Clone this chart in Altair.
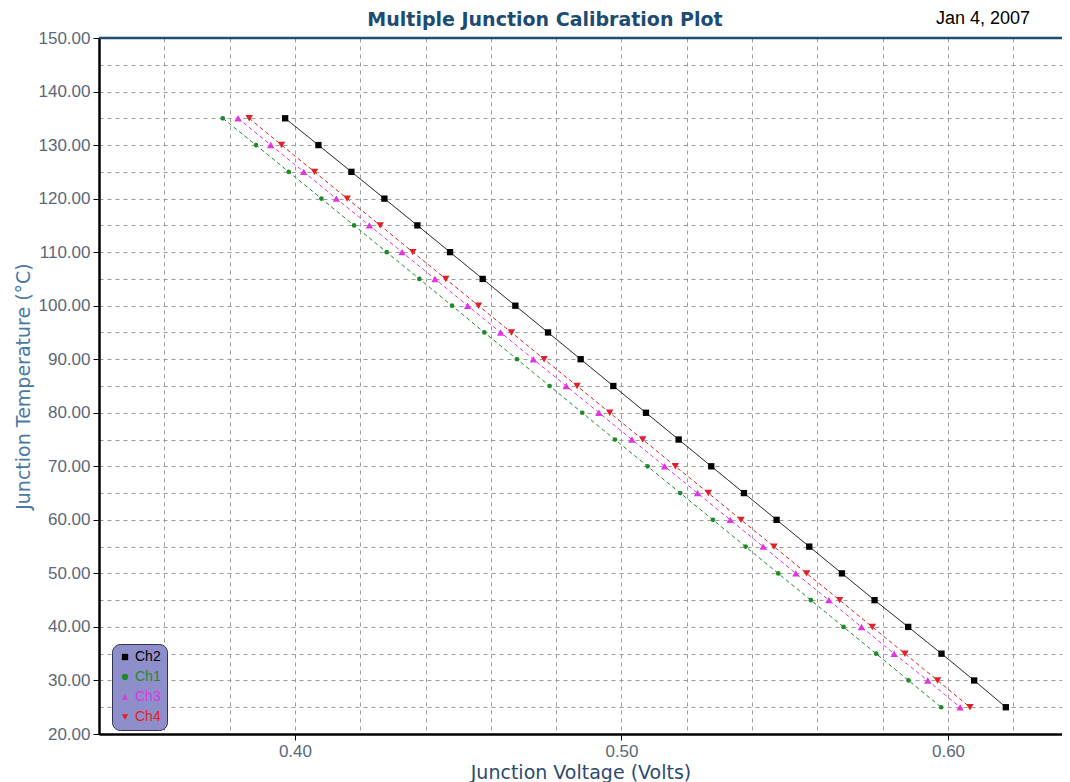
import altair as alt
import pandas as pd

# ---- data ----
temps = [135, 130, 125, 120, 115, 110, 105, 100, 95, 90, 85, 80,
         75, 70, 65, 60, 55, 50, 45, 40, 35, 30, 25]
ch2 = [0.3970, 0.4072, 0.4173, 0.4274, 0.4375, 0.4475, 0.4575, 0.4675,
       0.4775, 0.4875, 0.4975, 0.5075, 0.5175, 0.5275, 0.5375, 0.5475,
       0.5575, 0.5675, 0.5775, 0.5878, 0.5980, 0.6080, 0.6177]
ch1 = [0.3779, 0.3881, 0.3981, 0.4081, 0.4181, 0.4281, 0.4381, 0.4481,
       0.4580, 0.4680, 0.4780, 0.4880, 0.4980, 0.5080, 0.5180, 0.5280,
       0.5380, 0.5480, 0.5580, 0.5680, 0.5780, 0.5879, 0.5979]
ch3 = [0.3826, 0.3926, 0.4027, 0.4127, 0.4228, 0.4328, 0.4429, 0.4529,
       0.4630, 0.4730, 0.4831, 0.4931, 0.5032, 0.5132, 0.5233, 0.5333,
       0.5434, 0.5534, 0.5635, 0.5735, 0.5835, 0.5938, 0.6037]
ch4 = [0.3860, 0.3959, 0.4060, 0.4160, 0.4261, 0.4361, 0.4462, 0.4562,
       0.4663, 0.4763, 0.4864, 0.4964, 0.5065, 0.5165, 0.5266, 0.5366,
       0.5467, 0.5567, 0.5668, 0.5768, 0.5868, 0.5968, 0.6067]

series_names = ["Ch2", "Ch1", "Ch3", "Ch4"]
series_colors = ["#000000", "#1f8a2a", "#e035e0", "#e0202a"]
series_shapes = ["square", "circle", "triangle-up", "triangle-down"]
series_sizes = [40, 22, 55, 55]
series_dash = [[1, 0], [4, 3], [4, 3], [4, 3]]

x_grid_values = [0.34, 0.36, 0.38, 0.40, 0.42, 0.44, 0.46, 0.48, 0.50,
                 0.52, 0.54, 0.56, 0.58, 0.60, 0.62]
y_grid_values = [20, 25, 30, 35, 40, 45, 50, 55, 60, 65, 70, 75, 80, 85,
                 90, 95, 100, 105, 110, 115, 120, 125, 130, 135, 140, 145, 150]

title_text = "Multiple Junction Calibration Plot"
date_text = "Jan 4, 2007"
x_title = "Junction Voltage (Volts)"
y_title = "Junction Temperature (°C)"

rows = []
for name, vals, sz in zip(series_names, [ch2, ch1, ch3, ch4], series_sizes):
    for t, v in zip(temps, vals):
        rows.append({"series": name, "voltage": v, "temp": t, "sz": sz})
df = pd.DataFrame(rows)

W, H = 963, 696

x_major = "abs(datum.value*10 - round(datum.value*10)) < 0.001"
y_major = "datum.value % 10 == 0"

label_color_expr = " : ".join(
    f"datum.value === '{n}' ? '{c}'" for n, c in zip(series_names[:-1], series_colors[:-1])
) + f" : '{series_colors[-1]}'"

legend = alt.Legend(
    title=None, orient="none", legendX=13, legendY=606,
    fillColor="#8e8ecb", strokeColor="#333355", cornerRadius=8,
    padding=6, labelFont="Liberation Sans", labelFontSize=14,
    labelColor=alt.ExprRef(expr=label_color_expr),
    symbolSize=40, rowPadding=6, labelOffset=3, symbolStrokeWidth=0,
)

x_enc = alt.X(
    "voltage:Q",
    scale=alt.Scale(domain=[0.34, 0.6349], nice=False, zero=False),
    axis=alt.Axis(
        values=x_grid_values,
        labelExpr=f"{x_major} ? format(datum.value, '.2f') : ''",
        tickOpacity={"condition": {"test": x_major, "value": 1}, "value": 0},
        tickSize=6, tickColor="black", domainColor="black", domainWidth=2.5,
        grid=True, gridDash=[4, 4], gridColor="#9b9b9b", gridWidth=1,
        labelFont="Liberation Sans", labelFontSize=17, labelColor="#5b6878",
        labelPadding=3, labelOverlap=False, labelFlush=False,
        title=x_title, titleFont="DejaVu Sans", titleFontSize=19,
        titleFontWeight="normal", titleColor="#2d4a6b", titlePadding=4,
    ),
)
y_enc = alt.Y(
    "temp:Q",
    scale=alt.Scale(domain=[20, 150], nice=False, zero=False),
    axis=alt.Axis(
        values=y_grid_values,
        labelExpr=f"{y_major} ? format(datum.value, '.2f') : ''",
        tickOpacity={"condition": {"test": y_major, "value": 1}, "value": 0},
        tickSize=6, tickColor="black", domainColor="black", domainWidth=2.5,
        grid=True, gridDash=[4, 4], gridColor="#9b9b9b", gridWidth=1,
        labelFont="Liberation Sans", labelFontSize=17, labelColor="#5b6878",
        labelPadding=3, labelOverlap=False, labelFlush=False,
        title=y_title, titleFont="DejaVu Sans", titleFontSize=19,
        titleFontWeight="normal", titleColor="#4a79a5", titlePadding=5,
    ),
)

color_enc = alt.Color("series:N", scale=alt.Scale(domain=series_names, range=series_colors),
                      legend=legend)

lines = alt.Chart(df).mark_line(strokeWidth=1).encode(
    x=x_enc, y=y_enc, color=color_enc,
    strokeDash=alt.StrokeDash("series:N", scale=alt.Scale(domain=series_names, range=series_dash),
                              legend=None),
    detail="series:N",
)

points = alt.Chart(df).mark_point(filled=True, opacity=1).encode(
    x=x_enc, y=y_enc, color=color_enc,
    shape=alt.Shape("series:N", scale=alt.Scale(domain=series_names, range=series_shapes),
                    legend=legend),
    size=alt.Size("sz:Q", scale=None, legend=None),
)

top_line = alt.Chart(pd.DataFrame({"edge": [0]})).mark_rule(
    color="#1d4f73", strokeWidth=2.5
).encode(x=alt.value(0), x2=alt.value(W), y=alt.value(0))

title_label = alt.Chart(pd.DataFrame({"label": [title_text]})).mark_text(
    font="DejaVu Sans", fontSize=19, fontWeight="bold", color="#1d4b73",
    align="center", baseline="middle"
).encode(text="label:N", x=alt.value(446), y=alt.value(-18))

date_label = alt.Chart(pd.DataFrame({"label": [date_text]})).mark_text(
    font="Liberation Sans", fontSize=18, color="black", align="center", baseline="middle"
).encode(text="label:N", x=alt.value(884), y=alt.value(-19))

chart = alt.layer(lines, points, top_line, title_label, date_label).properties(
    width=W, height=H,
    autosize=alt.AutoSizeParams(type="none"),
    padding={"left": 91, "top": 30, "right": 0, "bottom": 60},
).configure_view(stroke=None).configure(background="white")

chart.save("out.html", embed_options={"renderer": "svg", "actions": False})
